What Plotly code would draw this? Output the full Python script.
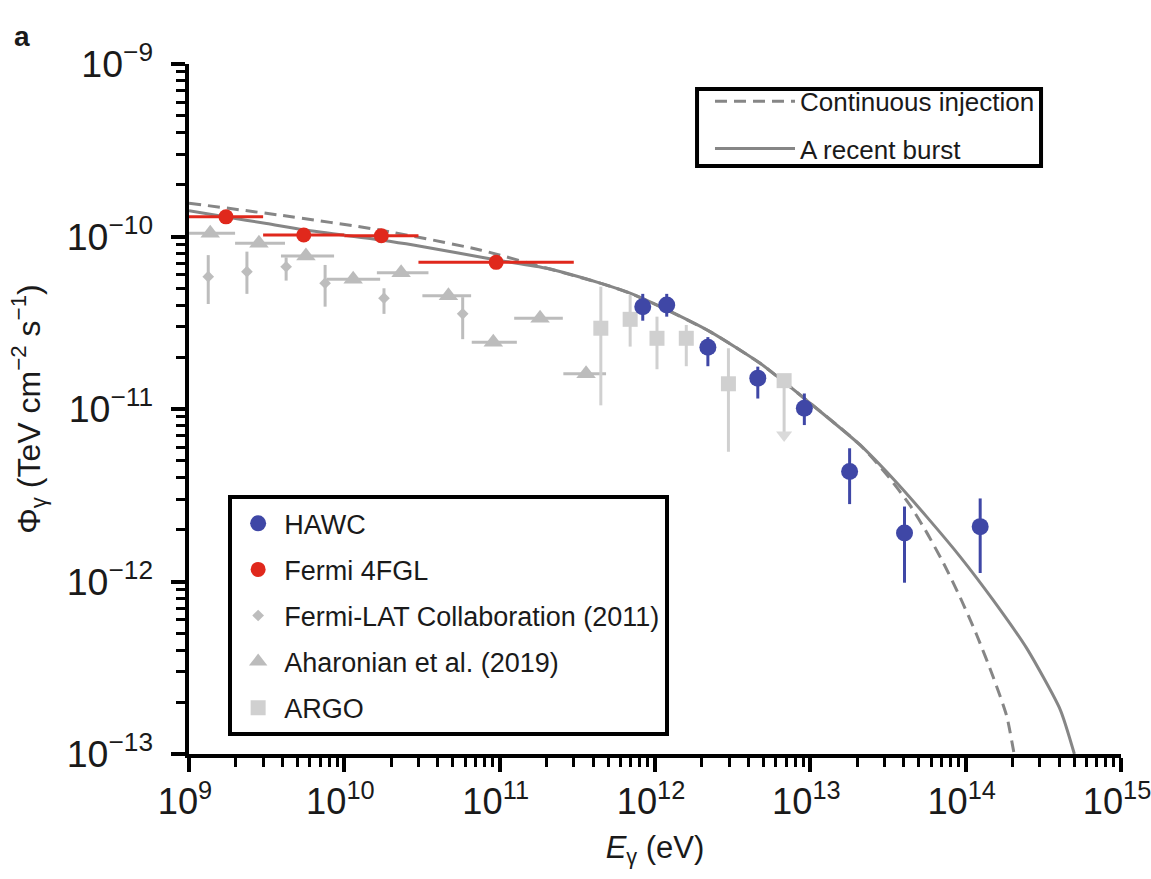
import plotly.graph_objects as go

# ---------------- data (energy in eV, flux in TeV cm^-2 s^-1) ----------------
# HAWC
hawc_E = [8.34e11, 1.19e12, 2.19e12, 4.59e12, 9.15e12, 1.79e13, 4.04e13, 1.24e14]
hawc_F = [3.92e-11, 4.01e-11, 2.28e-11, 1.51e-11, 1.01e-11, 4.34e-12, 1.91e-12, 2.08e-12]
hawc_hi = [4.65e-11, 4.65e-11, 2.61e-11, 1.76e-11, 1.23e-11, 5.92e-12, 2.72e-12, 3.03e-12]
hawc_lo = [3.25e-11, 3.43e-11, 1.77e-11, 1.15e-11, 8.07e-12, 2.81e-12, 9.84e-13, 1.12e-12]

# Fermi 4FGL
fgl_E = [1.73e9, 5.48e9, 1.73e10, 9.49e10]
fgl_F = [1.30e-10, 1.02e-10, 1.01e-10, 7.08e-11]
fgl_Emin = [1.0e9, 3.0e9, 1.0e10, 3.0e10]
fgl_Emax = [3.0e9, 1.0e10, 3.0e10, 3.0e11]

# Fermi-LAT Collaboration (2011)
lat_E = [1.33e9, 2.36e9, 4.22e9, 7.52e9, 1.80e10, 5.78e10]
lat_F = [5.85e-11, 6.25e-11, 6.68e-11, 5.36e-11, 4.39e-11, 3.56e-11]
lat_hi = [7.80e-11, 8.17e-11, 7.57e-11, 6.84e-11, 5.01e-11, 4.45e-11]
lat_lo = [4.06e-11, 4.65e-11, 5.55e-11, 3.92e-11, 3.56e-11, 2.54e-11]

# Aharonian et al. (2019)
ah_E = [1.37e9, 2.82e9, 5.66e9, 1.14e10, 2.32e10, 4.68e10, 9.10e10, 1.82e11, 3.60e11]
ah_Emin = [1.0e9, 1.98e9, 3.91e9, 7.71e9, 1.62e10, 3.18e10, 6.61e10, 1.24e11, 2.57e11]
ah_Emax = [1.98e9, 4.15e9, 8.59e9, 1.70e10, 3.48e10, 6.55e10, 1.29e11, 2.55e11, 4.84e11]
ah_F = [1.045e-10, 9.14e-11, 7.71e-11, 5.65e-11, 6.17e-11, 4.54e-11, 2.44e-11, 3.36e-11, 1.60e-11]

# ARGO
argo_E = [4.48e11, 6.92e11, 1.03e12, 1.59e12, 2.97e12, 6.78e12]
argo_F = [2.94e-11, 3.31e-11, 2.57e-11, 2.57e-11, 1.40e-11, 1.46e-11]
argo_hi = [5.12e-11, 4.58e-11, 3.43e-11, 3.07e-11, 2.25e-11, 1.46e-11]
argo_lo = [1.05e-11, 2.30e-11, 1.70e-11, 1.77e-11, 5.65e-12, 7.06e-12]
argo_ul_E = [6.78e12]
argo_ul_F = [7.06e-12]

# Model curves
burst_E = [1.0e9, 1.71e9, 3.16e9, 5.58e9, 1.70e10, 2.78e10, 9.57e10, 2.01e11, 4.44e11,
           6.92e11, 1.08e12, 2.26e12, 4.75e12, 9.98e12, 2.09e13, 3.41e13, 5.62e13,
           9.23e13, 1.50e14, 2.48e14, 4.06e14, 5.01e14]
burst_F = [1.41e-10, 1.30e-10, 1.19e-10, 1.09e-10, 9.55e-11, 8.93e-11, 7.31e-11, 6.55e-11, 5.37e-11,
           4.69e-11, 3.92e-11, 2.81e-11, 1.84e-11, 1.08e-11, 6.19e-12, 3.94e-12, 2.37e-12,
           1.39e-12, 7.82e-13, 4.08e-13, 1.81e-13, 1.0e-13]

cont_E = [1.0e9, 3.85e9, 1.70e10, 7.48e10, 2.01e11, 4.44e11, 6.92e11, 1.08e12, 2.26e12,
          4.75e12, 9.98e12, 2.09e13, 3.11e13, 4.40e13, 5.62e13, 7.19e13, 9.23e13,
          1.18e14, 1.51e14, 1.84e14, 2.05e14]
cont_F = [1.56e-10, 1.33e-10, 1.09e-10, 8.36e-11, 6.55e-11, 5.37e-11, 4.69e-11, 3.92e-11, 2.81e-11,
          1.84e-11, 1.08e-11, 6.19e-12, 4.16e-12, 2.75e-12, 1.92e-12, 1.28e-12, 8.07e-13,
          4.88e-13, 2.77e-13, 1.65e-13, 1.0e-13]

# ---------------- styling ----------------
FONT = "Liberation Sans, Arial, Helvetica, sans-serif"
TXT = "#1a1a1a"
BLUE = "#3f47a6"
RED = "#e0281c"
GRAY_LAT = "#bdbdbd"
GRAY_AH = "#bcbcbc"
GRAY_ARGO = "#d0d0d0"
CURVE = "#868686"

fig = go.Figure()

fig.add_trace(go.Scatter(
    x=cont_E, y=cont_F, mode="lines", name="Continuous injection",
    line=dict(color=CURVE, width=3, dash="12px,7px", shape="spline", smoothing=0.6),
    legend="legend2", legendgroup="c1"))
fig.add_trace(go.Scatter(
    x=burst_E, y=burst_F, mode="lines", name="A recent burst",
    line=dict(color=CURVE, width=3, shape="spline", smoothing=0.6),
    legend="legend2", legendgroup="c2"))

fig.add_trace(go.Scatter(
    x=lat_E, y=lat_F, mode="markers", name="Fermi-LAT Collaboration (2011)",
    marker=dict(symbol="diamond", size=9, color=GRAY_LAT),
    error_y=dict(type="data", symmetric=False,
                 array=[h - f for h, f in zip(lat_hi, lat_F)],
                 arrayminus=[f - l for f, l in zip(lat_F, lat_lo)],
                 color=GRAY_LAT, thickness=3, width=0),
    legendgroup="g3", legendrank=3))

fig.add_trace(go.Scatter(
    x=ah_E, y=ah_F, mode="markers", name="Aharonian et al. (2019)",
    marker=dict(symbol="triangle-up", size=17, color=GRAY_AH),
    error_x=dict(type="data", symmetric=False,
                 array=[b - e for b, e in zip(ah_Emax, ah_E)],
                 arrayminus=[e - a for e, a in zip(ah_E, ah_Emin)],
                 color=GRAY_AH, thickness=3, width=0),
    legendgroup="g4", legendrank=4))

fig.add_trace(go.Scatter(
    x=argo_E, y=argo_F, mode="markers", name="ARGO",
    marker=dict(symbol="square", size=15, color=GRAY_ARGO),
    error_y=dict(type="data", symmetric=False,
                 array=[h - f for h, f in zip(argo_hi, argo_F)],
                 arrayminus=[f - l for f, l in zip(argo_F, argo_lo)],
                 color=GRAY_ARGO, thickness=3, width=0),
    legendgroup="g5", legendrank=5))
fig.add_trace(go.Scatter(
    x=argo_ul_E, y=argo_ul_F, mode="markers", showlegend=False,
    marker=dict(symbol="triangle-down", size=14, color="#dadada"),
    legendgroup="g5"))

fig.add_trace(go.Scatter(
    x=fgl_E, y=fgl_F, mode="markers", name="Fermi 4FGL",
    marker=dict(symbol="circle", size=15, color=RED),
    error_x=dict(type="data", symmetric=False,
                 array=[b - e for b, e in zip(fgl_Emax, fgl_E)],
                 arrayminus=[e - a for e, a in zip(fgl_E, fgl_Emin)],
                 color=RED, thickness=3, width=0),
    legendgroup="g2", legendrank=2))

fig.add_trace(go.Scatter(
    x=hawc_E, y=hawc_F, mode="markers", name="HAWC",
    marker=dict(symbol="circle", size=17, color=BLUE),
    error_y=dict(type="data", symmetric=False,
                 array=[h - f for h, f in zip(hawc_hi, hawc_F)],
                 arrayminus=[f - l for f, l in zip(hawc_F, hawc_lo)],
                 color=BLUE, thickness=3, width=0),
    legendgroup="g1", legendrank=1))

axis_common = dict(
    type="log", dtick=1, exponentformat="power",
    showline=True, linewidth=4, linecolor="black", mirror=False,
    ticks="outside", ticklen=14, tickwidth=4, tickcolor="black",
    minor=dict(ticks="outside", ticklen=9, tickwidth=3, tickcolor="black", showgrid=False),
    showgrid=False, zeroline=False, ticklabeloverflow="allow", automargin=False,
)

fig.update_layout(
    width=1151, height=879,
    margin=dict(l=189, r=30, t=64, b=125),
    paper_bgcolor="white", plot_bgcolor="white",
    font=dict(family=FONT, color=TXT),
    xaxis=dict(axis_common, range=[9, 15],
               tickfont=dict(family=FONT, size=29, color=TXT), ticklabelshift=-4,
               title=dict(text="<i>E</i><sub>γ</sub> (eV)", font=dict(size=31, color=TXT), standoff=16)),
    yaxis=dict(axis_common, range=[-13, -9],
               tickfont=dict(family=FONT, size=30, color=TXT), ticklabelstandoff=12,
               title=dict(text="Φ<sub>γ</sub> (TeV cm<sup>−2</sup> s<sup>−1</sup>)",
                          font=dict(size=32, color=TXT), standoff=18)),
    legend=dict(x=0.042, y=0.375, xanchor="left", yanchor="top",
                bordercolor="black", borderwidth=4, bgcolor="white",
                font=dict(family=FONT, size=27, color=TXT),
                traceorder="grouped", tracegroupgap=8, itemwidth=42),
    legend2=dict(x=0.559, y=0.980, xanchor="left", yanchor="top",
                 borderwidth=0, bgcolor="rgba(0,0,0,0)",
                 font=dict(family=FONT, size=26, color=TXT),
                 traceorder="grouped", tracegroupgap=10.5, itemwidth=80),
    showlegend=True,
    shapes=[dict(type="rect", xref="paper", yref="paper",
                 x0=0.5451, x1=0.9142, y0=0.8522, y1=0.9638,
                 line=dict(color="black", width=4), fillcolor="rgba(0,0,0,0)", layer="above")],
    annotations=[dict(text="<b>a</b>", x=-0.179, y=1.04, xref="paper", yref="paper",
                      showarrow=False, font=dict(family=FONT, size=28, color=TXT),
                      xanchor="center", yanchor="middle")],
)

fig.write_html("out.html")
